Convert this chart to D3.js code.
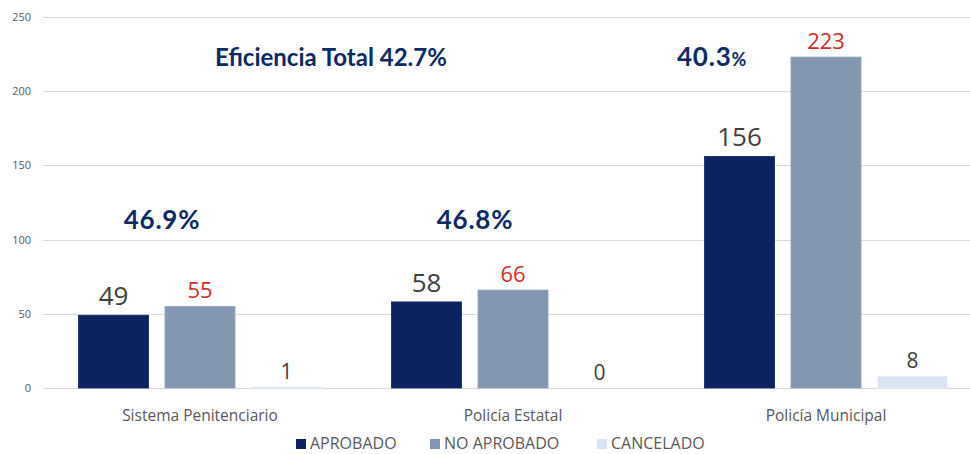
<!DOCTYPE html>
<html><head><meta charset="utf-8">
<script src="https://cdn.jsdelivr.net/npm/d3@7"></script>
<style>body{margin:0;background:#fff}svg{display:block}</style>
</head><body>
<script>
const categories = ["Sistema Penitenciario", "Policía Estatal", "Policía Municipal"];
const seriesNames = ["APROBADO", "NO APROBADO", "CANCELADO"];
const aprobado = [49, 58, 156];
const noAprobado = [55, 66, 223];
const cancelado = [1, 0, 8];
const eficiencias = ["46.9", "46.8", "40.3"];
const eficienciaTotal = "Eficiencia Total 42.7%";
const yTicks = [0, 50, 100, 150, 200, 250];

const colors = ["#0c2360", "#8497b0", "#dae3f3"];
const labelColors = ["#404040", "#d62b2b", "#404040"];
const labelSizes = [26, 22, 21];

const W = 970, H = 454;
const svg = d3.select("body").append("svg").attr("width", W).attr("height", H);

const y = d3.scaleLinear().domain([0, 250]).range([388, 17]);
const x0 = d3.scaleBand().domain(categories).range([43.5, 982.5]).paddingInner(0).paddingOuter(0);
const x1 = d3.scaleBand().domain(seriesNames).range([-121.5, 121.5]).paddingInner(0.19);

// grid
svg.append("g").selectAll("line").data(yTicks).join("line")
  .attr("x1", 43).attr("x2", 970)
  .attr("y1", d => Math.round(y(d)) + 0.5).attr("y2", d => Math.round(y(d)) + 0.5)
  .attr("stroke", "#d9d9d9").attr("stroke-width", 1);

// y labels
svg.append("g").selectAll("text").data(yTicks).join("text")
  .attr("x", 31).attr("y", d => y(d) + 4)
  .attr("text-anchor", "end")
  .attr("font-family", "Open Sans, sans-serif").attr("font-size", 11)
  .attr("fill", "#595959").text(d => d);

const series = [aprobado, noAprobado, cancelado];
const data = [];
categories.forEach((c, i) => series.forEach((s, j) => data.push({c, s: seriesNames[j], j, v: s[i]})));

const cx = d => x0(d.c) + x0.bandwidth() / 2 + x1(d.s);

svg.append("g").selectAll("rect").data(data.filter(d => d.v > 0)).join("rect")
  .attr("x", d => cx(d)).attr("width", x1.bandwidth())
  .attr("y", d => y(d.v)).attr("height", d => y(0) - y(d.v))
  .attr("fill", d => colors[d.j])
  .attr("stroke", d => d3.color(colors[d.j]).brighter(0.25)).attr("stroke-width", 0.8);

svg.append("g").selectAll("text").data(data).join("text")
  .attr("x", d => cx(d) + x1.bandwidth() / 2)
  .attr("y", d => y(d.v) - (d.j === 0 ? 10 : 8))
  .attr("text-anchor", "middle")
  .attr("font-family", "Open Sans, sans-serif")
  .attr("font-size", d => labelSizes[d.j])
  .attr("fill", d => labelColors[d.j])
  .text(d => d.v);

// category labels
svg.append("g").selectAll("text").data(categories).join("text")
  .attr("x", d => x0(d) + x0.bandwidth() / 2).attr("y", 421)
  .attr("text-anchor", "middle")
  .attr("font-family", "Open Sans, sans-serif").attr("font-size", 15.5)
  .attr("fill", "#595959").text(d => d);

// efficiency annotations
const effPos = [[162, 229], [475, 229], [712, 66]];
eficiencias.forEach((e, i) => {
  const t = svg.append("text").attr("x", effPos[i][0]).attr("y", effPos[i][1])
    .attr("text-anchor", "middle").attr("font-family", "Lato, sans-serif")
    .attr("font-weight", "bold").attr("fill", "#0c2a66").attr("font-size", 26)
    .attr("letter-spacing", 0.8);
  t.append("tspan").text(e);
  t.append("tspan").attr("font-size", i === 2 ? 18 : 26).text("%");
});
svg.append("text").attr("x", 331).attr("y", 66).attr("text-anchor", "middle")
  .attr("font-family", "Lato, sans-serif").attr("font-weight", "bold")
  .attr("font-size", 24).attr("fill", "#0c2a66").text(eficienciaTotal);

// legend
const legX = [296, 430, 597];
const lg = svg.append("g").selectAll("g").data(seriesNames).join("g")
  .attr("transform", (d, i) => `translate(${legX[i]},0)`);
lg.append("rect").attr("x", 0).attr("y", 439).attr("width", 10).attr("height", 10)
  .attr("fill", (d, i) => colors[i]);
lg.append("text").attr("x", 14).attr("y", 449)
  .attr("font-family", "Open Sans, sans-serif").attr("font-size", 16)
  .attr("fill", "#595959").text(d => d);
</script>
</body></html>
